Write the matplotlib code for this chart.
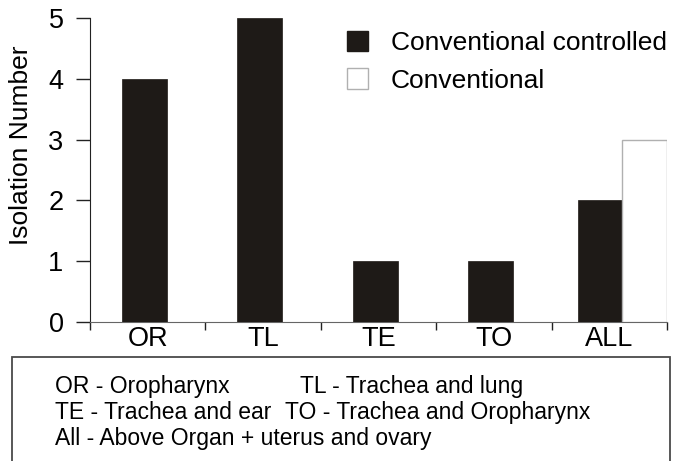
import numpy as np
import matplotlib.pyplot as plt
from matplotlib.patches import Rectangle

plt.rcParams['font.family'] = ['Liberation Sans', 'DejaVu Sans']

# data
categories = ['OR', 'TL', 'TE', 'TO', 'ALL']
controlled = [4, 5, 1, 1, 2]
conventional = [3]          # only the ALL group has a conventional bar
yticks = [0, 1, 2, 3, 4, 5]
notes = [
    ('OR - Oropharynx', 'TL - Trachea and lung'),
    ('TE - Trachea and ear', 'TO - Trachea and Oropharynx'),
    ('All - Above Organ + uterus and ovary', ''),
]

fig = plt.figure(figsize=(6.82, 4.61), dpi=100)
ax = fig.add_axes([90/682, 1-322/461, 577/682, 304/461])

width = 0.39
x = np.arange(len(categories)) + 0.5
ctrl_x = x - 0.03
ctrl_x[-1] = x[-1] - 0.08
conv_x = [x[-1] + 0.11 + width/2]

ax.bar(ctrl_x, controlled, width=width, color='#1e1a17', edgecolor='#1e1a17',
       linewidth=0.5, label='Conventional controlled', zorder=3)
ax.bar(conv_x, conventional, width=width, color='white', edgecolor='#b0b0b0',
       linewidth=1.0, label='Conventional', zorder=3)

ax.set_xlim(0, len(categories))
ax.set_ylim(0, 5)
ax.set_xticks(np.arange(len(categories) + 1))
ax.set_xticklabels([])
ax.set_xticks(x, minor=True)
ax.set_xticklabels(categories, minor=True, fontsize=19.5)
ax.tick_params(axis='x', which='minor', length=0, pad=3)
ax.tick_params(axis='x', which='major', length=6, width=1, direction='out', color='#222222')
ax.set_yticks(yticks)
ax.set_yticklabels([str(v) for v in yticks], fontsize=19.5)
ax.tick_params(axis='y', length=10, width=1, pad=9, color='#222222')

for s in ['top', 'right']:
    ax.spines[s].set_visible(False)
ax.spines['left'].set_color('#222222')
ax.spines['bottom'].set_color('#666666')

ax.set_ylabel('Isolation Number', fontsize=19)
ax.yaxis.set_label_coords(-0.099, 0.58)

leg = ax.legend(loc='upper left', bbox_to_anchor=(347/682, 1-31/461),
                bbox_transform=fig.transFigure, frameon=False, fontsize=19,
                handlelength=0.8, handleheight=0.8, handletextpad=0.85,
                borderpad=0, borderaxespad=0, labelspacing=0.5)
for h in leg.legend_handles:
    h.set_linewidth(1.0)

# explanation box at the bottom
fig.patches.append(Rectangle((12/682, -0.02), 658/682, 0.02 + 104/461,
                             transform=fig.transFigure, facecolor='white',
                             edgecolor='#4a4a4a', linewidth=1.3))
line_y = [386, 412, 438]
for (left, right), yy in zip(notes, line_y):
    fig.text(55/682, 1-yy/461, left, fontsize=16.5, va='center')
    if right:
        xr = 300 if right.startswith('TL') else 285
        fig.text(xr/682, 1-yy/461, right, fontsize=16.5, va='center')

fig.savefig('out.png', dpi=100)
